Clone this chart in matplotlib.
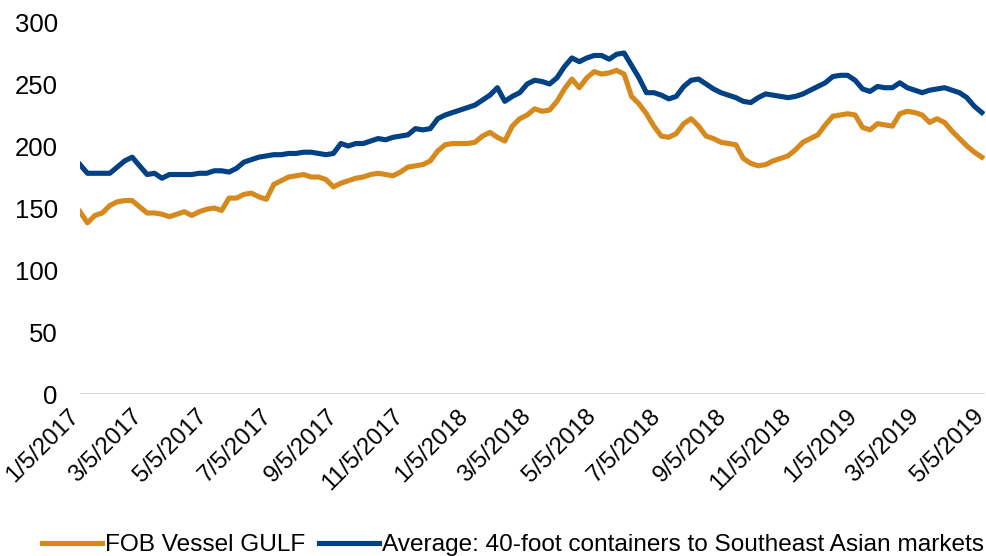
from __future__ import annotations

import matplotlib

matplotlib.use("Agg")

import matplotlib.pyplot as plt
import matplotlib.transforms as mtransforms
import pandas as pd

# weekly observations, Thursdays from 1/5/2017
start_date = "2017-01-05"

fob_vessel_gulf = [
    147, 138, 144, 146, 152, 155, 156, 156, 151, 146,
    146, 145, 143, 145, 147, 144, 147, 149, 150, 148,
    158, 158, 161, 162, 159, 157, 169, 172, 175, 176,
    177, 175, 175, 173, 167, 170, 172, 174, 175, 177,
    178, 177, 176, 179, 183, 184, 185, 188, 196, 201,
    202, 202, 202, 203, 208, 211, 207, 204, 216, 222,
    225, 230, 228, 229, 236, 246, 254, 247, 255, 260,
    258, 259, 261, 258, 240, 234, 226, 216, 208, 207,
    210, 218, 222, 216, 208, 206, 203, 202, 201, 190,
    186, 184, 185, 188, 190, 192, 197, 203, 206, 209,
    217, 224, 225, 226, 225, 215, 213, 218, 217, 216,
    226, 228, 227, 225, 219, 222, 219, 212, 206, 200,
    195, 191,
]

container_avg = [
    185, 178, 178, 178, 178, 183, 188, 191, 184, 177,
    178, 174, 177, 177, 177, 177, 178, 178, 180, 180,
    179, 182, 187, 189, 191, 192, 193, 193, 194, 194,
    195, 195, 194, 193, 194, 202, 200, 202, 202, 204,
    206, 205, 207, 208, 209, 214, 213, 214, 222, 225,
    227, 229, 231, 233, 237, 241, 247, 236, 240, 243,
    250, 253, 252, 250, 255, 264, 271, 268, 271, 273,
    273, 270, 274, 275, 265, 255, 243, 243, 241, 238,
    240, 248, 253, 254, 250, 246, 243, 241, 239, 236,
    235, 239, 242, 241, 240, 239, 240, 242, 245, 248,
    251, 256, 257, 257, 253, 246, 244, 248, 247, 247,
    251, 247, 245, 243, 245, 246, 247, 245, 243, 239,
    232, 227,
]

tick_dates = [
    "2017-01-05", "2017-03-05", "2017-05-05", "2017-07-05", "2017-09-05",
    "2017-11-05", "2018-01-05", "2018-03-05", "2018-05-05", "2018-07-05",
    "2018-09-05", "2018-11-05", "2019-01-05", "2019-03-05", "2019-05-05",
]
y_ticks = [0, 50, 100, 150, 200, 250, 300]

series_labels = ["FOB Vessel GULF", "Average: 40-foot containers to Southeast Asian markets"]
orange = "#d68a1e"
navy = "#014184"

plt.rcParams["font.family"] = ["Liberation Sans", "DejaVu Sans"]

dates = pd.date_range(start_date, periods=len(fob_vessel_gulf), freq="7D")
ticks = pd.to_datetime(tick_dates)

fig = plt.figure(figsize=(9.86, 5.56), dpi=100)
ax = fig.add_axes([80 / 986, 1 - 394 / 556, 905 / 986, 372 / 556])

ax.plot(dates, fob_vessel_gulf, color=orange, linewidth=3.7, label=series_labels[0],
        solid_joinstyle="round")
ax.plot(dates, container_avg, color=navy, linewidth=3.7, label=series_labels[1],
        solid_joinstyle="round")

ax.set_xlim(ticks[0], ticks[-1])
ax.set_ylim(0, 300)
ax.set_yticks(y_ticks)
ax.set_xticks(ticks)
ax.set_xticklabels([f"{d.month}/{d.day}/{d.year}" for d in ticks])
ax.axhline(0, color="#d0d0d0", linewidth=1.2, zorder=0)

for side in ("left", "right", "top", "bottom"):
    ax.spines[side].set_visible(False)
ax.tick_params(axis="y", length=0, pad=16, labelsize=18.5)
ax.tick_params(axis="x", length=0, pad=8, labelsize=17.2)

# nudge the rotated date labels left so the last one stays inside the figure
shift = mtransforms.ScaledTranslation(-8.5 / 72, 0, fig.dpi_scale_trans)
for label in ax.get_xticklabels():
    label.set_rotation(45)
    label.set_ha("right")
    label.set_va("top")
    label.set_rotation_mode("anchor")
    label.set_transform(label.get_transform() + shift)

fig.legend(
    loc="center",
    bbox_to_anchor=(513 / 986, 1 - 545 / 556),
    ncol=2,
    frameon=False,
    fontsize=17.6,
    handlelength=2.45,
    handletextpad=0.13,
    columnspacing=0.55,
    borderpad=0,
)

fig.savefig("out.png", dpi=100)
plt.close(fig)
